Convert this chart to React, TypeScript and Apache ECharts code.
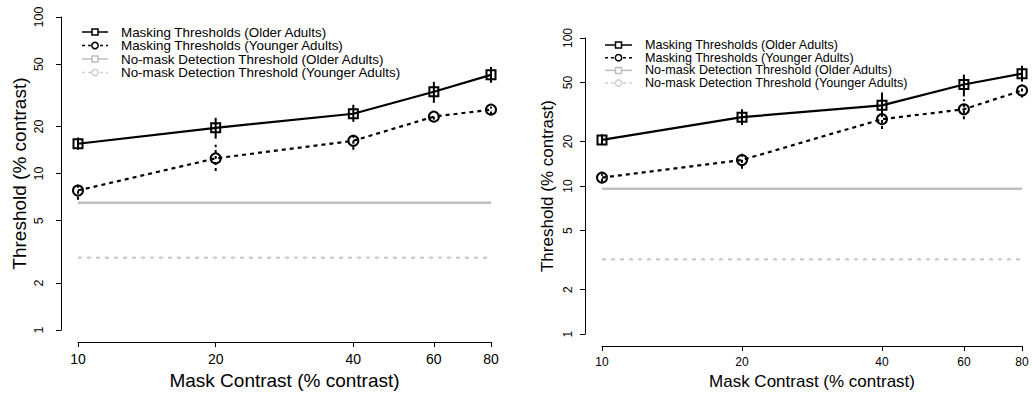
import React, { useEffect, useRef } from "react";
import * as echarts from "echarts";

// Mask contrast levels (% contrast)
const maskContrast = [10, 20, 40, 60, 80];

// Left panel
const olderLeft = [15.5, 19.6, 24.1, 33.3, 42.7];
const olderLeftLow = [14.2, 16.7, 21.4, 28.3, 38.0];
const olderLeftHigh = [17.0, 22.7, 27.5, 38.5, 48.0];
const youngerLeft = [7.8, 12.5, 16.2, 23.1, 25.6];
const youngerLeftLow = [6.8, 10.4, 14.2, 22.1, 23.8];
const youngerLeftHigh = [8.8, 15.3, 18.2, 24.1, 26.7];
const noMaskOlderLeft = 6.5;
const noMaskYoungerLeft = 2.9;

// Right panel
const olderRight = [20.5, 29.2, 35.1, 48.5, 57.4];
const olderRightLow = [18.9, 25.8, 30.5, 40.3, 50.8];
const olderRightHigh = [22.4, 33.0, 42.9, 56.6, 65.0];
const youngerRight = [11.4, 15.0, 28.3, 33.0, 44.2];
const youngerRightLow = [10.7, 13.1, 24.3, 28.3, 39.7];
const youngerRightHigh = [12.1, 16.5, 31.5, 38.5, 48.5];
const noMaskOlderRight = 9.6;
const noMaskYoungerRight = 3.2;

const yTicks = [1, 2, 5, 10, 20, 50, 100];
const xTicks = [10, 20, 40, 60, 80];

const legendLabels = [
  "Masking Thresholds (Older Adults)",
  "Masking Thresholds (Younger Adults)",
  "No-mask Detection Threshold (Older Adults)",
  "No-mask Detection Threshold (Younger Adults)",
];

const FONT = "'Liberation Sans', Arial, Helvetica, sans-serif";
const GRAY = "#bebebe";
const LIGHT_GRAY = "#d0d0d0";

function pairs(values: number[]) {
  return maskContrast.map((x, i) => [x, values[i]]);
}

function bars(low: number[], high: number[]) {
  return maskContrast.map((x, i) => [x, low[i], high[i]]);
}

function flat(v: number) {
  return [
    { value: [maskContrast[0], v], symbol: "none" },
    { value: [maskContrast[maskContrast.length - 1], v], symbol: "none" },
  ];
}

function errorSeries(idx: number, data: number[][], dashed: boolean) {
  return {
    type: "custom",
    xAxisIndex: idx,
    yAxisIndex: idx,
    data,
    encode: { x: 0, y: [1, 2] },
    z: 1,
    renderItem: (_p: any, api: any) => {
      const a = api.coord([api.value(0), api.value(1)]);
      const b = api.coord([api.value(0), api.value(2)]);
      return {
        type: "line",
        shape: { x1: a[0], y1: a[1], x2: b[0], y2: b[1] },
        style: {
          stroke: "#000",
          lineWidth: 2,
          lineDash: dashed ? [3, 3] : null,
        },
      };
    },
  };
}

function lineSeries(
  idx: number,
  data: any[],
  symbol: string,
  color: string,
  dash: number[] | "solid",
  width: number,
  size: number
) {
  return {
    type: "line",
    xAxisIndex: idx,
    yAxisIndex: idx,
    data,
    symbol,
    symbolSize: size,
    showSymbol: true,
    z: 3,
    lineStyle: { color, width, type: dash },
    itemStyle: { color: "rgba(0,0,0,0)", borderColor: color, borderWidth: 2 },
  };
}

function legendGraphic(
  x0: number,
  x1: number,
  textX: number,
  rows: number[],
  fontSize: number,
  lineHeight: number
) {
  const styles = [
    { color: "#000", dash: null as any, sym: "rect" },
    { color: "#000", dash: [3, 3], sym: "circle" },
    { color: GRAY, dash: null as any, sym: "rect" },
    { color: LIGHT_GRAY, dash: [3, 3], sym: "circle" },
  ];
  const els: any[] = [];
  const mid = (x0 + x1) / 2;
  rows.forEach((y, i) => {
    const s = styles[i];
    els.push({
      type: "line",
      shape: { x1: x0, y1: y, x2: x1, y2: y },
      style: { stroke: s.color, lineWidth: 1.5, lineDash: s.dash },
    });
    if (s.sym === "rect") {
      els.push({
        type: "rect",
        shape: { x: mid - 3, y: y - 3, width: 6, height: 6 },
        style: { fill: "#fff", stroke: s.color, lineWidth: 1.5 },
      });
    } else {
      els.push({
        type: "circle",
        shape: { cx: mid, cy: y, r: 3.2 },
        style: { fill: "#fff", stroke: s.color, lineWidth: 1.5 },
      });
    }
    els.push({
      type: "text",
      x: textX,
      y,
      style: {
        text: legendLabels[i],
        fontFamily: FONT,
        fontSize,
        lineHeight,
        fill: "#000",
        verticalAlign: "middle",
        align: "left",
      },
    });
  });
  return els;
}

function xAxis(idx: number, fontSize: number, nameSize: number, nameGap: number, offset: number) {
  return {
    type: "log",
    gridIndex: idx,
    min: 10,
    max: 80,
    logBase: 10,
    offset,
    name: "Mask Contrast (% contrast)",
    nameLocation: "middle",
    nameGap,
    nameTextStyle: { fontFamily: FONT, fontSize: nameSize, color: "#000" },
    axisLine: { show: true, lineStyle: { color: "#000", width: 1 } },
    axisTick: { show: true, length: 5, customValues: xTicks, lineStyle: { color: "#000" } },
    axisLabel: {
      customValues: xTicks,
      fontFamily: FONT,
      fontSize,
      color: "#000",
      margin: 10,
      hideOverlap: false,
    },
    splitLine: { show: false },
  };
}

function yAxis(idx: number, fontSize: number, nameSize: number, nameGap: number, margin: number) {
  return {
    type: "log",
    gridIndex: idx,
    min: 1,
    max: 100,
    logBase: 10,
    offset: 17,
    name: "Threshold (% contrast)",
    nameLocation: "middle",
    nameGap,
    nameTextStyle: { fontFamily: FONT, fontSize: nameSize, color: "#000" },
    axisLine: { show: true, lineStyle: { color: "#000", width: 1 } },
    axisTick: { show: true, length: 5, customValues: yTicks, lineStyle: { color: "#000" } },
    axisLabel: {
      customValues: yTicks,
      rotate: 90,
      fontFamily: FONT,
      fontSize,
      color: "#000",
      margin,
      hideOverlap: false,
    },
    splitLine: { show: false },
  };
}

export default function App() {
  const ref = useRef<HTMLDivElement>(null);

  useEffect(() => {
    if (!ref.current) return;
    const chart = echarts.init(ref.current, null, { renderer: "svg" });
    chart.setOption({
      animation: false,
      backgroundColor: "#fff",
      grid: [
        { left: 78, right: 1032 - 491, top: 17, bottom: 395 - 331 },
        { left: 602, right: 1032 - 1022, top: 38, bottom: 395 - 337 },
      ],
      xAxis: [xAxis(0, 14, 19, 28, 12), xAxis(1, 12, 17, 25, 12)],
      yAxis: [yAxis(0, 12.5, 19, 32, 16), yAxis(1, 12, 17, 29, 11)],
      graphic: [
        ...legendGraphic(82, 108, 121, [32, 45.5, 59, 72.5], 13.4, 13.4),
        ...legendGraphic(605, 632, 645, [45, 57.7, 70.4, 83.1], 12.6, 12.6),
      ],
      series: [
        lineSeries(0, flat(noMaskOlderLeft), "rect", GRAY, "solid", 2.5, 8),
        lineSeries(0, flat(noMaskYoungerLeft), "circle", LIGHT_GRAY, [4, 5], 2.5, 8),
        errorSeries(0, bars(olderLeftLow, olderLeftHigh), false),
        errorSeries(0, bars(youngerLeftLow, youngerLeftHigh), true),
        lineSeries(0, pairs(olderLeft), "rect", "#000", "solid", 2.2, 9),
        lineSeries(0, pairs(youngerLeft), "circle", "#000", [4, 4], 2.2, 10),

        lineSeries(1, flat(noMaskOlderRight), "rect", GRAY, "solid", 2.5, 8),
        lineSeries(1, flat(noMaskYoungerRight), "circle", LIGHT_GRAY, [4, 5], 2.5, 8),
        errorSeries(1, bars(olderRightLow, olderRightHigh), false),
        errorSeries(1, bars(youngerRightLow, youngerRightHigh), true),
        lineSeries(1, pairs(olderRight), "rect", "#000", "solid", 2.2, 9),
        lineSeries(1, pairs(youngerRight), "circle", "#000", [4, 4], 2.2, 10),
      ],
    });
    return () => chart.dispose();
  }, []);

  return (
    <div
      ref={ref}
      style={{ position: "fixed", left: 0, top: 0, width: 1032, height: 395 }}
    />
  );
}
